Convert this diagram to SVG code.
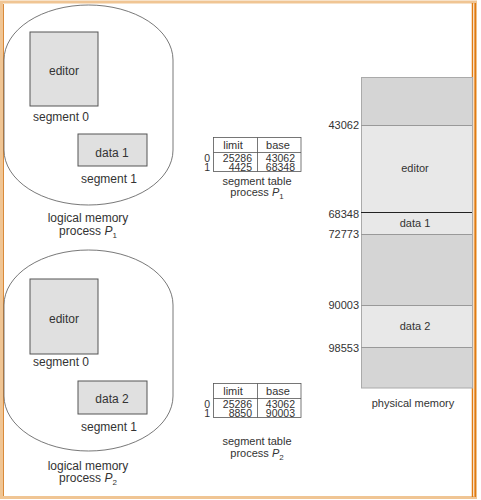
<svg xmlns="http://www.w3.org/2000/svg" width="481" height="500" viewBox="0 0 481 500">
<style>
text{font-family:"Liberation Sans",Arial,sans-serif;fill:#333;}
.lbl{font-size:12px;text-anchor:middle;}
.tb{font-size:11px;}
.tn{font-size:10.5px;}
.mid{text-anchor:middle;}
.end{text-anchor:end;}
.blob{fill:none;stroke:#555;stroke-width:0.8;}
.seg{fill:#e0e0e0;stroke:#555;stroke-width:1;}
.tbl{fill:#fff;stroke:#555;stroke-width:0.8;}
.dk{fill:#d5d5d5;}
.lt{fill:#e8e8e8;}
.sep{stroke:#999;stroke-width:1;}
.sub{font-size:8px;}
</style>
<rect x="0" y="0" width="481" height="500" fill="#fff"/>
<g id="frame">
<rect x="1.5" y="2" width="474" height="495.5" fill="none" stroke="#f0c594" stroke-width="3"/>
<line x1="3.5" y1="4" x2="3.5" y2="496" stroke="#d98a3a" stroke-width="1"/>
<line x1="472.5" y1="3" x2="472.5" y2="497" stroke="#e07b12" stroke-width="1.5"/>
<line x1="475.3" y1="3" x2="475.3" y2="497" stroke="#e07b12" stroke-width="1.5"/>
</g>

<g id="logical1">
<path class="blob" d="M4,60 A84.5,55 0 0 1 173,60 L173,150 A84.5,55 0 0 1 4,150 Z"/>
<rect class="seg" x="30" y="32" width="68" height="74"/>
<text class="lbl" x="64" y="75">editor</text>
<text class="lbl" x="61" y="121">segment 0</text>
<rect class="seg" x="78" y="134" width="69" height="32"/>
<text class="lbl" x="112" y="157">data 1</text>
<text class="lbl" x="109" y="183">segment 1</text>
<text class="lbl" x="88" y="222">logical memory</text>
<text class="lbl" x="88" y="235">process <tspan font-style="italic">P</tspan><tspan class="sub" dy="3">1</tspan></text>
</g>

<g id="table1">
<rect class="tbl" x="213.5" y="137.5" width="87.5" height="34"/>
<line class="tbl" x1="213.5" y1="152.5" x2="301" y2="152.5"/>
<line class="tbl" x1="257.5" y1="137.5" x2="257.5" y2="171.5"/>
<text class="tb mid" x="233" y="149">limit</text>
<text class="tb mid" x="278" y="149">base</text>
<text class="tn end" x="210" y="162">0</text>
<text class="tn end" x="210" y="171">1</text>
<text class="tn end" x="252" y="162">25286</text>
<text class="tn end" x="252" y="171">4425</text>
<text class="tn end" x="295" y="162">43062</text>
<text class="tn end" x="295" y="171">68348</text>
<text class="tb mid" x="257" y="185">segment table</text>
<text class="tb mid" x="257" y="196">process <tspan font-style="italic">P</tspan><tspan class="sub" dy="3">1</tspan></text>
</g>

<g id="logical2">
<path class="blob" d="M4,305 A84.5,55 0 0 1 173,305 L173,396 A84.5,55 0 0 1 4,396 Z"/>
<rect class="seg" x="30" y="279" width="68" height="75"/>
<text class="lbl" x="64" y="323">editor</text>
<text class="lbl" x="61" y="366">segment 0</text>
<rect class="seg" x="78" y="381" width="69" height="33"/>
<text class="lbl" x="112" y="403">data 2</text>
<text class="lbl" x="109" y="431">segment 1</text>
<text class="lbl" x="88" y="470">logical memory</text>
<text class="lbl" x="88" y="482">process <tspan font-style="italic">P</tspan><tspan class="sub" dy="3">2</tspan></text>
</g>

<g id="table2">
<rect class="tbl" x="213.5" y="383.5" width="87.5" height="34"/>
<line class="tbl" x1="213.5" y1="398.5" x2="301" y2="398.5"/>
<line class="tbl" x1="257.5" y1="383.5" x2="257.5" y2="417.5"/>
<text class="tb mid" x="233" y="395">limit</text>
<text class="tb mid" x="278" y="395">base</text>
<text class="tn end" x="210" y="408">0</text>
<text class="tn end" x="210" y="417">1</text>
<text class="tn end" x="252" y="408">25286</text>
<text class="tn end" x="252" y="417">8850</text>
<text class="tn end" x="295" y="408">43062</text>
<text class="tn end" x="295" y="417">90003</text>
<text class="tb mid" x="257" y="445">segment table</text>
<text class="tb mid" x="257" y="457">process <tspan font-style="italic">P</tspan><tspan class="sub" dy="3">2</tspan></text>
</g>

<g id="physical">
<rect class="dk" x="361" y="77" width="111" height="48"/>
<rect class="lt" x="361" y="125" width="111" height="87"/>
<rect class="lt" x="361" y="212" width="111" height="22"/>
<rect class="dk" x="361" y="234" width="111" height="71"/>
<rect class="lt" x="361" y="305" width="111" height="42"/>
<rect class="dk" x="361" y="347" width="111" height="41"/>
<rect x="361.5" y="77.5" width="111" height="310.5" fill="none" stroke="#aaa" stroke-width="1"/>
<line class="sep" x1="361" y1="125.5" x2="472" y2="125.5"/>
<line x1="361" y1="212.5" x2="472" y2="212.5" stroke="#222" stroke-width="1"/>
<line class="sep" x1="361" y1="234.5" x2="472" y2="234.5"/>
<line class="sep" x1="361" y1="305.5" x2="472" y2="305.5"/>
<line class="sep" x1="361" y1="347.5" x2="472" y2="347.5"/>
<text class="tb end" x="359" y="129">43062</text>
<text class="tb end" x="359" y="218">68348</text>
<text class="tb end" x="359" y="238">72773</text>
<text class="tb end" x="359" y="309">90003</text>
<text class="tb end" x="359" y="352">98553</text>
<text class="tb mid" x="415" y="172">editor</text>
<text class="tb mid" x="415" y="227">data 1</text>
<text class="tb mid" x="415" y="330">data 2</text>
<text class="tb mid" x="413" y="407">physical memory</text>
</g>
</svg>
